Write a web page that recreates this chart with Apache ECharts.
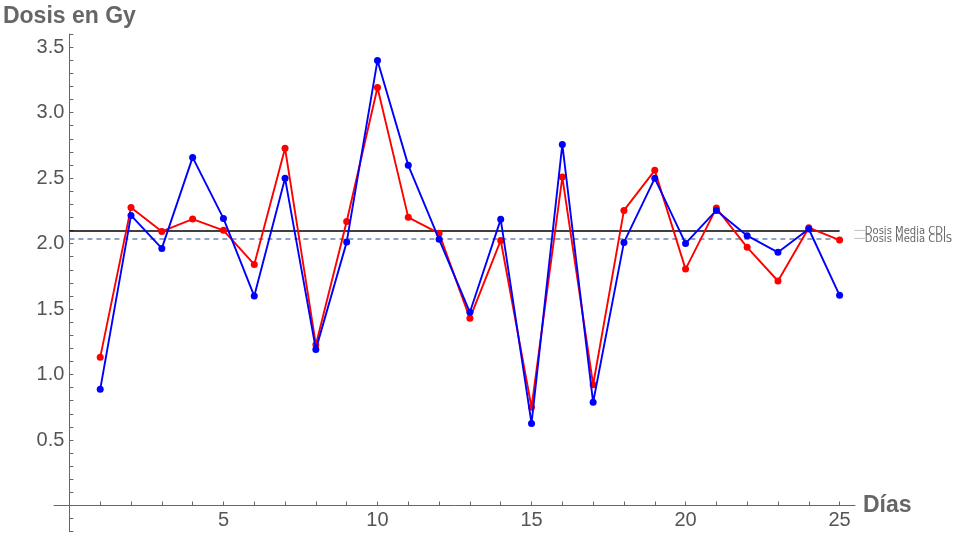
<!DOCTYPE html>
<html>
<head>
<meta charset="utf-8">
<script src="https://cdn.jsdelivr.net/npm/echarts@6/dist/echarts.min.js"></script>
<style>html,body{margin:0;padding:0;background:#fff}#c{width:965px;height:534px}</style>
</head>
<body>
<div id="c"></div>
<script>
const days = [1,2,3,4,5,6,7,8,9,10,11,12,13,14,15,16,17,18,19,20,21,22,23,24,25];
const cdi  = [1.131,2.276,2.093,2.187,2.101,1.841,2.727,1.228,2.169,3.192,2.200,2.078,1.429,2.024,0.750,2.508,0.922,2.253,2.559,1.805,2.271,1.971,1.714,2.121,2.027];
const cdis = [0.887,2.215,1.963,2.658,2.192,1.599,2.498,1.192,2.011,3.398,2.597,2.032,1.475,2.185,0.627,2.757,0.788,2.009,2.498,2.001,2.253,2.060,1.933,2.111,1.605];
const meanCDI = 2.095;
const meanCDIS = 2.035;
const meanNames = ['Dosis Media CDI', 'Dosis Media CDIS'];
const xTickLabels = [5,10,15,20,25];
const yTickLabels = ['0.5','1.0','1.5','2.0','2.5','3.0','3.5'];

const chart = echarts.init(document.getElementById('c'), null, {renderer:'canvas'});
const axisGray = '#666';
const font = '"Liberation Sans", Arial, sans-serif';

function meanSeries(name, val, color, type) {
  return {
    type: 'line', name: name,
    data: [[0, val],[days[days.length-1], val]],
    symbol: 'none', silent: true, z: 1,
    lineStyle: {color: color, width: 1.5, type: type},
    endLabel: {
      show: true, distance: 15,
      formatter: '{l|──}{t|' + name + '}',
      rich: {
        l: {color: '#aaa', fontSize: 8.5, fontFamily: '"DejaVu Sans"'},
        t: {color: '#666', fontSize: 10, fontFamily: '"DejaVu Sans"'}
      }
    }
  };
}

chart.setOption({
  animation: false,
  grid: {left: 54, right: 110, top: 34, bottom: 2.3, containLabel: false, outerBoundsMode: 'none'},
  xAxis: {
    type: 'value', min: -0.5, max: 25.5, position: 'bottom', offset: -26.2,
    name: 'Días', nameLocation: 'end', nameGap: 8,
    nameTextStyle: {color: axisGray, fontSize: 23, fontWeight: 'bold', fontFamily: font, verticalAlign: 'middle'},
    axisLine: {onZero: false, lineStyle: {color: axisGray, width: 1}},
    axisTick: {show: true, inside: true, length: 4, customValues: days, lineStyle: {color: axisGray}},
    axisLabel: {customValues: xTickLabels, color: '#555', fontSize: 20, fontFamily: font, margin: 5},
    splitLine: {show: false}
  },
  yAxis: {
    type: 'value', min: -0.2, max: 3.6, interval: 0.1, position: 'left', offset: -15.4,
    name: 'Dosis en Gy', nameLocation: 'end', nameGap: 6,
    nameTextStyle: {color: axisGray, fontSize: 23, fontWeight: 'bold', fontFamily: font, align: 'center'},
    axisLine: {onZero: false, lineStyle: {color: axisGray, width: 1}},
    axisTick: {show: true, inside: true, length: 4, lineStyle: {color: axisGray}},
    axisLabel: {
      color: '#555', fontSize: 20, fontFamily: font, margin: 5,
      formatter: function (v) {
        const s = (Math.round(v * 10) / 10).toFixed(1);
        return yTickLabels.indexOf(s) >= 0 ? s : '';
      }
    },
    splitLine: {show: false}
  },
  series: [
    meanSeries(meanNames[0], meanCDI, '#000', 'solid'),
    meanSeries(meanNames[1], meanCDIS, '#6a86b3', [5, 4]),
    {
      type: 'line', name: 'CDI', z: 3,
      data: days.map((d, i) => [d, cdi[i]]),
      symbol: 'circle', symbolSize: 7,
      itemStyle: {color: '#ff0000'},
      lineStyle: {color: '#ff0000', width: 1.9}
    },
    {
      type: 'line', name: 'CDIS', z: 4,
      data: days.map((d, i) => [d, cdis[i]]),
      symbol: 'circle', symbolSize: 7,
      itemStyle: {color: '#0000ff'},
      lineStyle: {color: '#0000ff', width: 1.9}
    }
  ]
});
</script>
</body>
</html>
